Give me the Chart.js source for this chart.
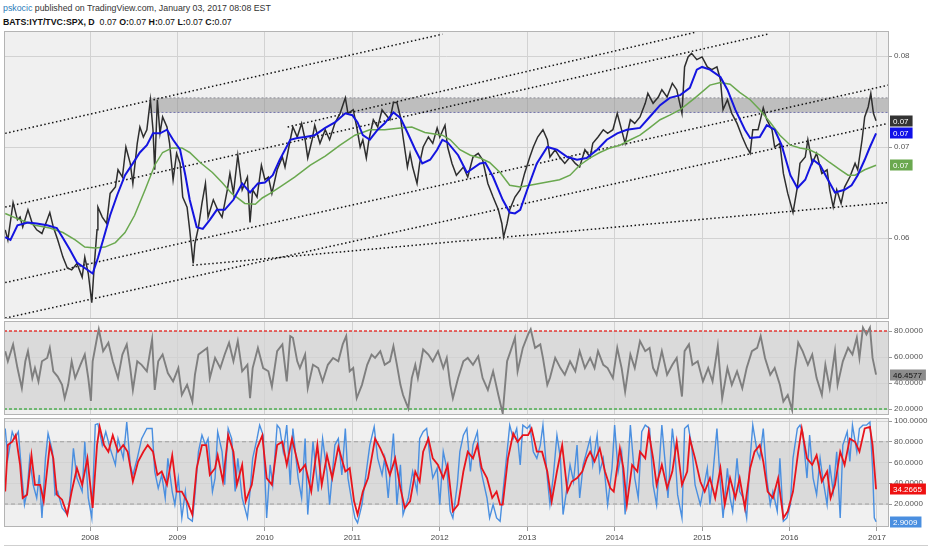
<!DOCTYPE html>
<html lang="en">
<head>
<meta charset="UTF-8">
<title>BATS:IYT/TVC:SPX, D</title>
<style>
  body { margin: 0; background: #fff; font-family: "Liberation Sans", Arial, sans-serif; }
  #page { position: relative; width: 932px; height: 550px; overflow: hidden; background: #fff; }
  .hdr { position: absolute; left: 3px; font-size: 8.8px; line-height: 12px; white-space: nowrap; color: #333; }
  #h1 { top: 2px; }
  #h2 { top: 16px; color: #111; }
  #h1 .user { color: #2a7ab9; }
  .pane { position: absolute; left: 4px; width: 928px; }
  #p1 { top: 31px; height: 288px; }
  #p2 { top: 321px; height: 94px; }
  #p3 { top: 414px; height: 134px; }
  #foot { position: absolute; left: 4px; top: 545px; width: 924px; border-top: 1px solid #cfcfcf; }
</style>
</head>
<body>
<div id="page">
  <div class="hdr" id="h1"><span class="user">pskocic</span> published on TradingView.com, January 03, 2017 08:08 EST</div>
  <div class="hdr" id="h2"><b>BATS:IYT/TVC:SPX, D</b>&nbsp; 0.07 <b>O:</b>0.07 <b>H:</b>0.07 <b>L:</b>0.07 <b>C:</b>0.07</div>
  <div class="pane" id="p1"><canvas id="mainChart"></canvas></div>
  <div class="pane" id="p2"><canvas id="rsiChart"></canvas></div>
  <div class="pane" id="p3"><canvas id="stochChart"></canvas></div>
  <div id="foot"></div>
</div>

<script src="https://cdn.jsdelivr.net/npm/chart.js"></script>
<script>
// ---- data: [decimal year, value] ----
const yearTicks = [2008, 2009, 2010, 2011, 2012, 2013, 2014, 2015, 2016, 2017];
const priceTicks = [0.06, 0.07, 0.08];
const rsiTicks = [20, 40, 60, 80];
const stochTicks = [20, 40, 60, 80, 100];
const rsiLevels = [80, 20];
const stochLevels = [80, 20];

const price = [
  [2007.03,0.0609],[2007.06,0.0598],[2007.12,0.0639],[2007.17,0.0620],[2007.20,0.0623],[2007.23,0.0612],[2007.29,0.0631],[2007.34,0.0616],
  [2007.39,0.0609],[2007.45,0.0605],[2007.51,0.0620],[2007.54,0.0628],[2007.58,0.0612],[2007.63,0.0598],[2007.69,0.0579],[2007.74,0.0567],
  [2007.79,0.0565],[2007.85,0.0572],[2007.91,0.0557],[2007.94,0.0579],[2007.98,0.0561],[2008.02,0.0529],[2008.05,0.0572],[2008.08,0.0609],
  [2008.09,0.0634],[2008.14,0.0623],[2008.19,0.0616],[2008.23,0.0649],[2008.29,0.0656],[2008.32,0.0675],[2008.37,0.0667],[2008.41,0.0700],
  [2008.46,0.0682],[2008.49,0.0660],[2008.54,0.0704],[2008.57,0.0722],[2008.61,0.0711],[2008.65,0.0719],[2008.69,0.0752],[2008.72,0.0719],
  [2008.74,0.0675],[2008.77,0.0752],[2008.80,0.0715],[2008.83,0.0733],[2008.88,0.0722],[2008.91,0.0704],[2008.95,0.0664],[2008.99,0.0693],
  [2009.03,0.0682],[2009.06,0.0645],[2009.11,0.0634],[2009.14,0.0609],[2009.18,0.0572],[2009.20,0.0594],[2009.24,0.0612],[2009.28,0.0638],
  [2009.32,0.0660],[2009.35,0.0623],[2009.41,0.0642],[2009.46,0.0631],[2009.51,0.0623],[2009.57,0.0653],[2009.60,0.0671],[2009.64,0.0649],
  [2009.69,0.0691],[2009.74,0.0653],[2009.80,0.0667],[2009.83,0.0617],[2009.86,0.0653],[2009.91,0.0645],[2009.96,0.0680],[2010.00,0.0664],
  [2010.04,0.0667],[2010.08,0.0649],[2010.14,0.0675],[2010.20,0.0689],[2010.23,0.0678],[2010.29,0.0708],[2010.32,0.0722],[2010.37,0.0711],
  [2010.42,0.0726],[2010.46,0.0708],[2010.49,0.0688],[2010.54,0.0708],[2010.57,0.0724],[2010.63,0.0704],[2010.69,0.0719],[2010.74,0.0708],
  [2010.80,0.0726],[2010.86,0.0737],[2010.92,0.0754],[2010.95,0.0737],[2011.01,0.0741],[2011.05,0.0722],[2011.09,0.0700],[2011.12,0.0708],
  [2011.16,0.0688],[2011.19,0.0708],[2011.24,0.0730],[2011.29,0.0722],[2011.34,0.0741],[2011.37,0.0737],[2011.43,0.0730],[2011.47,0.0749],
  [2011.51,0.0749],[2011.55,0.0733],[2011.58,0.0711],[2011.63,0.0678],[2011.66,0.0693],[2011.69,0.0678],[2011.74,0.0660],[2011.77,0.0682],
  [2011.81,0.0700],[2011.87,0.0711],[2011.92,0.0704],[2011.97,0.0721],[2012.00,0.0711],[2012.06,0.0724],[2012.09,0.0700],[2012.14,0.0682],
  [2012.19,0.0669],[2012.27,0.0678],[2012.32,0.0667],[2012.38,0.0689],[2012.44,0.0693],[2012.49,0.0686],[2012.55,0.0660],[2012.61,0.0645],
  [2012.67,0.0631],[2012.71,0.0616],[2012.73,0.0601],[2012.77,0.0616],[2012.80,0.0631],[2012.86,0.0645],[2012.92,0.0653],[2012.97,0.0671],
  [2013.03,0.0689],[2013.07,0.0700],[2013.12,0.0711],[2013.18,0.0719],[2013.23,0.0708],[2013.26,0.0689],[2013.32,0.0697],[2013.37,0.0689],
  [2013.43,0.0682],[2013.49,0.0689],[2013.55,0.0682],[2013.60,0.0678],[2013.66,0.0697],[2013.72,0.0689],[2013.75,0.0704],[2013.81,0.0711],
  [2013.87,0.0719],[2013.92,0.0715],[2013.98,0.0719],[2014.03,0.0737],[2014.06,0.0726],[2014.12,0.0704],[2014.18,0.0730],[2014.23,0.0726],
  [2014.29,0.0733],[2014.35,0.0748],[2014.38,0.0759],[2014.44,0.0748],[2014.50,0.0755],[2014.54,0.0763],[2014.60,0.0755],[2014.66,0.0770],
  [2014.71,0.0763],[2014.77,0.0737],[2014.80,0.0788],[2014.84,0.0799],[2014.88,0.0803],[2014.94,0.0796],[2015.00,0.0799],[2015.06,0.0788],
  [2015.11,0.0785],[2015.17,0.0788],[2015.21,0.0774],[2015.24,0.0741],[2015.29,0.0752],[2015.34,0.0737],[2015.40,0.0726],[2015.46,0.0711],
  [2015.51,0.0700],[2015.55,0.0693],[2015.58,0.0719],[2015.64,0.0719],[2015.70,0.0743],[2015.74,0.0730],[2015.80,0.0719],[2015.83,0.0700],
  [2015.89,0.0704],[2015.93,0.0671],[2015.98,0.0649],[2016.04,0.0628],[2016.09,0.0656],[2016.12,0.0682],[2016.18,0.0689],[2016.21,0.0708],
  [2016.26,0.0682],[2016.31,0.0693],[2016.37,0.0671],[2016.43,0.0675],[2016.46,0.0653],[2016.50,0.0634],[2016.54,0.0653],[2016.59,0.0638],
  [2016.63,0.0656],[2016.69,0.0667],[2016.75,0.0682],[2016.78,0.0675],[2016.83,0.0708],[2016.86,0.0733],[2016.90,0.0744],[2016.93,0.0759],
  [2016.96,0.0737],[2016.99,0.0729]
];

const fastMa = [
  [2007.03,0.0601],[2007.09,0.0598],[2007.17,0.0614],[2007.29,0.0617],[2007.39,0.0616],[2007.51,0.0614],[2007.62,0.0611],[2007.69,0.0600],
  [2007.77,0.0587],[2007.85,0.0573],[2007.94,0.0567],[2008.03,0.0561],[2008.09,0.0578],[2008.15,0.0598],[2008.23,0.0625],[2008.31,0.0647],
  [2008.40,0.0669],[2008.49,0.0682],[2008.57,0.0694],[2008.65,0.0702],[2008.72,0.0715],[2008.80,0.0715],[2008.88,0.0719],[2008.95,0.0708],
  [2009.03,0.0697],[2009.09,0.0669],[2009.14,0.0642],[2009.22,0.0612],[2009.29,0.0610],[2009.37,0.0620],[2009.45,0.0631],[2009.54,0.0631],
  [2009.64,0.0642],[2009.74,0.0660],[2009.83,0.0650],[2009.92,0.0660],[2010.00,0.0661],[2010.09,0.0669],[2010.17,0.0686],[2010.29,0.0708],
  [2010.37,0.0710],[2010.46,0.0711],[2010.57,0.0713],[2010.69,0.0721],[2010.80,0.0727],[2010.92,0.0737],[2011.00,0.0735],[2011.06,0.0727],
  [2011.12,0.0713],[2011.20,0.0708],[2011.29,0.0719],[2011.37,0.0726],[2011.47,0.0738],[2011.55,0.0732],[2011.63,0.0716],[2011.72,0.0697],
  [2011.80,0.0682],[2011.89,0.0686],[2011.97,0.0697],[2012.03,0.0708],[2012.09,0.0705],[2012.21,0.0691],[2012.31,0.0672],[2012.46,0.0682],
  [2012.52,0.0683],[2012.61,0.0667],[2012.72,0.0642],[2012.80,0.0628],[2012.86,0.0627],[2012.92,0.0631],[2013.00,0.0653],[2013.11,0.0682],
  [2013.23,0.0700],[2013.34,0.0697],[2013.46,0.0689],[2013.57,0.0686],[2013.68,0.0688],[2013.80,0.0697],[2013.91,0.0708],[2014.03,0.0715],
  [2014.14,0.0719],[2014.29,0.0721],[2014.40,0.0733],[2014.52,0.0746],[2014.63,0.0754],[2014.75,0.0757],[2014.86,0.0765],[2014.94,0.0785],
  [2015.00,0.0788],[2015.09,0.0785],[2015.21,0.0777],[2015.29,0.0763],[2015.38,0.0741],[2015.49,0.0719],[2015.55,0.0710],[2015.66,0.0711],
  [2015.74,0.0724],[2015.83,0.0719],[2015.91,0.0702],[2016.01,0.0669],[2016.09,0.0655],[2016.18,0.0664],[2016.27,0.0686],[2016.35,0.0680],
  [2016.44,0.0664],[2016.52,0.0650],[2016.63,0.0653],[2016.71,0.0658],[2016.78,0.0669],[2016.86,0.0686],[2016.92,0.0700],[2016.99,0.0715]
];

const slowMa = [
  [2007.03,0.0627],[2007.20,0.0620],[2007.37,0.0614],[2007.54,0.0611],[2007.69,0.0606],[2007.83,0.0598],[2007.94,0.0590],[2008.06,0.0589],
  [2008.17,0.0590],[2008.29,0.0595],[2008.40,0.0606],[2008.51,0.0625],[2008.63,0.0653],[2008.74,0.0680],[2008.83,0.0694],[2008.94,0.0699],
  [2009.05,0.0699],[2009.14,0.0694],[2009.26,0.0683],[2009.40,0.0672],[2009.51,0.0661],[2009.62,0.0649],[2009.77,0.0638],[2009.89,0.0637],
  [2009.97,0.0644],[2010.06,0.0649],[2010.17,0.0656],[2010.34,0.0667],[2010.52,0.0680],[2010.69,0.0690],[2010.86,0.0702],[2011.03,0.0713],
  [2011.20,0.0719],[2011.37,0.0719],[2011.55,0.0721],[2011.68,0.0722],[2011.83,0.0716],[2012.03,0.0713],[2012.12,0.0708],[2012.23,0.0697],
  [2012.35,0.0691],[2012.46,0.0688],[2012.57,0.0683],[2012.69,0.0672],[2012.80,0.0658],[2012.92,0.0656],[2013.03,0.0658],[2013.20,0.0661],
  [2013.37,0.0664],[2013.49,0.0669],[2013.60,0.0680],[2013.72,0.0688],[2013.83,0.0694],[2013.95,0.0699],[2014.06,0.0702],[2014.18,0.0708],
  [2014.29,0.0713],[2014.40,0.0721],[2014.52,0.0730],[2014.63,0.0735],[2014.75,0.0741],[2014.92,0.0754],[2015.09,0.0768],[2015.21,0.0771],
  [2015.32,0.0769],[2015.43,0.0760],[2015.55,0.0752],[2015.66,0.0741],[2015.78,0.0727],[2015.89,0.0713],[2016.01,0.0702],[2016.12,0.0699],
  [2016.23,0.0697],[2016.35,0.0691],[2016.46,0.0683],[2016.58,0.0675],[2016.67,0.0669],[2016.75,0.0669],[2016.86,0.0675],[2016.99,0.0680]
];

// dotted channel lines, each [start, end]
const trendLines = [
  [[2007.03,0.0715],[2012.03,0.0824]],
  [[2007.03,0.0634],[2015.75,0.0824]],
  [[2010.26,0.0722],[2014.92,0.0826]],
  [[2007.03,0.0551],[2017.13,0.0768]],
  [[2007.03,0.0512],[2017.13,0.0726]],
  [[2009.17,0.0570],[2017.13,0.0639]]
];
// resistance zone: from, to, top, bottom
const zoneSpan = [2008.68, 2017.14];
const zoneLevels = [0.0754, 0.0738];

const rsi = [
  [2007.03,64.5],[2007.06,56.7],[2007.12,69.7],[2007.17,51.5],[2007.22,36],[2007.26,56.7],[2007.29,64.5],[2007.34,43.8],[2007.37,51.5],
  [2007.41,41.2],[2007.45,56.7],[2007.51,59.3],[2007.54,67],[2007.58,49],[2007.63,45],[2007.68,38.6],[2007.71,28.3],[2007.75,38.6],
  [2007.79,56.7],[2007.83,43.8],[2007.89,54],[2007.94,61.9],[2007.98,43.8],[2008.01,26.2],[2008.03,56.7],[2008.08,74.8],[2008.10,81.3],
  [2008.15,64.5],[2008.21,71],[2008.26,56.7],[2008.32,43.8],[2008.37,61.9],[2008.42,69.7],[2008.46,51.5],[2008.49,34.7],[2008.54,56.7],
  [2008.59,54],[2008.65,49],[2008.71,73.5],[2008.74,34.7],[2008.78,56.7],[2008.83,61.9],[2008.89,47.7],[2008.95,41.2],[2009.01,51.5],
  [2009.05,30.8],[2009.11,38.6],[2009.17,25.7],[2009.20,46.4],[2009.24,61.9],[2009.29,64.5],[2009.34,67],[2009.37,43.8],[2009.43,59.3],
  [2009.49,51.5],[2009.54,61.9],[2009.59,71],[2009.64,56.7],[2009.69,72.2],[2009.74,49],[2009.80,54],[2009.83,28.3],[2009.86,51.5],
  [2009.92,67],[2009.98,51.5],[2010.04,49],[2010.08,37.3],[2010.14,64.5],[2010.20,69.7],[2010.25,41.2],[2010.29,76.1],[2010.32,74.8],
  [2010.37,56.7],[2010.40,51.5],[2010.46,61.9],[2010.49,36],[2010.55,54],[2010.61,51.5],[2010.66,41.2],[2010.72,54],[2010.78,59.3],
  [2010.84,56.7],[2010.89,69.7],[2010.93,76.1],[2010.97,49],[2011.01,51.5],[2011.05,28.3],[2011.11,38.6],[2011.17,54],[2011.22,61.9],
  [2011.26,59.3],[2011.32,64.5],[2011.37,54],[2011.43,56.7],[2011.47,68.4],[2011.51,54],[2011.55,38.6],[2011.58,30.8],[2011.64,20.5],
  [2011.68,43.8],[2011.72,54],[2011.75,43.8],[2011.81,65.8],[2011.87,61.9],[2011.92,56.7],[2011.98,64.5],[2012.04,51.5],[2012.08,59.3],
  [2012.12,38.6],[2012.15,28.3],[2012.21,43.8],[2012.27,56.7],[2012.32,59.3],[2012.38,54],[2012.44,60.6],[2012.49,43.8],[2012.55,34.7],
  [2012.61,49],[2012.67,30.8],[2012.72,16.6],[2012.77,56.7],[2012.81,64.5],[2012.86,74.8],[2012.89,49],[2012.95,67],[2013.01,77.4],
  [2013.04,81.3],[2013.09,67],[2013.15,69.7],[2013.18,59.3],[2013.23,38.6],[2013.26,43.8],[2013.32,59.3],[2013.38,51.5],[2013.43,46.4],
  [2013.49,56.7],[2013.55,49],[2013.60,64.5],[2013.66,51.5],[2013.72,59.3],[2013.77,51.5],[2013.81,64.5],[2013.87,54],[2013.92,51.5],
  [2013.98,43.8],[2014.03,67],[2014.08,51.5],[2014.12,33.4],[2014.18,61.9],[2014.23,51.5],[2014.29,72.2],[2014.35,64.5],[2014.40,67],
  [2014.44,51.5],[2014.48,46.4],[2014.54,64.5],[2014.60,46.4],[2014.66,54],[2014.71,59.3],[2014.77,29.6],[2014.80,64.5],[2014.85,69.7],
  [2014.89,54],[2014.95,56.7],[2015.01,41.2],[2015.07,51.5],[2015.12,41.2],[2015.18,68.4],[2015.23,28.3],[2015.29,51.5],[2015.34,38.6],
  [2015.40,49],[2015.46,36],[2015.51,51.5],[2015.57,64.5],[2015.63,67],[2015.67,76.1],[2015.72,59.3],[2015.78,46.4],[2015.83,51.5],
  [2015.89,38.6],[2015.93,25.7],[2015.98,30.8],[2016.03,19.2],[2016.06,49],[2016.10,71],[2016.15,64.5],[2016.21,54],[2016.26,61.9],
  [2016.31,43.8],[2016.37,30.8],[2016.41,54],[2016.46,36],[2016.52,64.5],[2016.55,38.6],[2016.61,56.7],[2016.67,67],[2016.72,61.9],
  [2016.77,74.8],[2016.80,59.3],[2016.84,82.6],[2016.88,77.4],[2016.92,82.6],[2016.95,59.3],[2016.99,46.4577]
];

const stochK = [
  [2007.03,92.8],[2007.06,64],[2007.11,89.6],[2007.14,83],[2007.18,89.6],[2007.22,48],[2007.25,19.4],[2007.28,32],[2007.31,64],
  [2007.35,38.5],[2007.39,25.8],[2007.42,48],[2007.45,6.6],[2007.49,64],[2007.52,88],[2007.57,70.4],[2007.60,29],[2007.63,32],
  [2007.68,16.2],[2007.74,9.8],[2007.77,25.8],[2007.81,73.6],[2007.85,45],[2007.91,32],[2007.94,80],[2007.98,25.8],[2008.02,6.6],
  [2008.06,96.5],[2008.09,97.4],[2008.14,76.8],[2008.18,89.6],[2008.23,73.6],[2008.29,57.7],[2008.32,83],[2008.38,64],[2008.42,99],
  [2008.46,57.7],[2008.49,48],[2008.54,64],[2008.59,83],[2008.65,92.8],[2008.71,92.8],[2008.74,51.3],[2008.78,35.3],[2008.82,48],
  [2008.86,25.8],[2008.89,64],[2008.94,32],[2008.97,19.4],[2009.01,45],[2009.05,6.6],[2009.09,32],[2009.12,6.6],[2009.17,3.4],
  [2009.20,29],[2009.24,70.4],[2009.28,86.4],[2009.32,76.8],[2009.35,83],[2009.40,32],[2009.43,45],[2009.46,89.6],[2009.51,70.4],
  [2009.54,38.5],[2009.58,92.8],[2009.62,83],[2009.66,32],[2009.69,64],[2009.74,25.8],[2009.80,6.6],[2009.83,32],[2009.86,64],
  [2009.91,83],[2009.94,96],[2009.98,86.4],[2010.02,6.6],[2010.06,57.7],[2010.09,38.5],[2010.14,96],[2010.17,92.8],[2010.21,70.4],
  [2010.25,96],[2010.29,38.5],[2010.32,92.8],[2010.38,45],[2010.42,25.8],[2010.46,83],[2010.49,9.8],[2010.55,80],[2010.61,32],
  [2010.66,83],[2010.71,51.3],[2010.74,19.4],[2010.80,76.8],[2010.84,83],[2010.88,48],[2010.92,92.8],[2010.95,45],[2011.00,19.4],
  [2011.03,6.6],[2011.06,1.8],[2011.11,19.4],[2011.17,57.7],[2011.20,76.8],[2011.25,94.4],[2011.29,64],[2011.34,48],[2011.37,64],
  [2011.41,25.8],[2011.47,88],[2011.51,19.4],[2011.55,57.7],[2011.58,9.8],[2011.64,25.8],[2011.69,51.3],[2011.74,32],[2011.77,83],
  [2011.81,89.6],[2011.85,92.8],[2011.89,64],[2011.92,45],[2011.97,54.5],[2012.00,19.4],[2012.04,70.4],[2012.08,54.5],[2012.12,13],
  [2012.15,6.6],[2012.20,38.5],[2012.23,70.4],[2012.27,86.4],[2012.31,92.8],[2012.35,51.3],[2012.38,76.8],[2012.43,89.6],[2012.46,57.7],
  [2012.49,45],[2012.54,25.8],[2012.57,6.6],[2012.61,19.4],[2012.65,6.6],[2012.69,3.4],[2012.72,29],[2012.77,70.4],[2012.80,96],
  [2012.84,83],[2012.88,92.8],[2012.92,57.7],[2012.95,96],[2013.00,92.8],[2013.03,96],[2013.07,70.4],[2013.11,64],[2013.15,76.8],
  [2013.18,96],[2013.23,45],[2013.26,19.4],[2013.30,48],[2013.34,86.4],[2013.38,64],[2013.41,9.8],[2013.46,38.5],[2013.49,57.7],
  [2013.53,41.7],[2013.57,76.8],[2013.60,25.8],[2013.64,57.7],[2013.68,70.4],[2013.72,83],[2013.75,57.7],[2013.80,86.4],[2013.83,51.3],
  [2013.87,64],[2013.92,19.4],[2013.97,54.5],[2014.00,96],[2014.04,51.3],[2014.08,70.4],[2014.12,9.8],[2014.18,96],[2014.23,45],
  [2014.27,25.8],[2014.31,89.6],[2014.35,96],[2014.40,92.8],[2014.44,38.5],[2014.48,19.4],[2014.54,96],[2014.58,57.7],[2014.61,25.8],
  [2014.66,92.8],[2014.69,70.4],[2014.72,29],[2014.77,6.6],[2014.80,92.8],[2014.84,96],[2014.88,76.8],[2014.92,38.5],[2014.98,19.4],
  [2015.01,32],[2015.06,54.5],[2015.09,19.4],[2015.12,45],[2015.17,92.8],[2015.21,38.5],[2015.24,6.6],[2015.29,54.5],[2015.32,25.8],
  [2015.35,13],[2015.40,64],[2015.43,32],[2015.47,25.8],[2015.51,6.6],[2015.55,64],[2015.58,96],[2015.63,70.4],[2015.66,64],
  [2015.70,92.8],[2015.74,45],[2015.78,19.4],[2015.81,32],[2015.86,13],[2015.89,64],[2015.93,3.4],[2015.97,6.6],[2016.01,19.4],
  [2016.04,64],[2016.09,92.8],[2016.12,96],[2016.15,89.6],[2016.20,45],[2016.23,86.4],[2016.27,45],[2016.31,29],[2016.35,64],
  [2016.38,45],[2016.43,19.4],[2016.46,57.7],[2016.50,32],[2016.54,70.4],[2016.58,6.6],[2016.61,76.8],[2016.66,89.6],[2016.69,61],
  [2016.72,96],[2016.77,70.4],[2016.80,92.8],[2016.84,96],[2016.88,96],[2016.92,99],[2016.95,54.5],[2016.97,6.6],[2016.99,2.9009]
];

const stochD = [
  [2007.03,32],[2007.06,76.8],[2007.11,80],[2007.15,86.4],[2007.20,57.7],[2007.23,25.8],[2007.28,29],[2007.33,67],[2007.37,38.5],
  [2007.43,38.5],[2007.47,22.6],[2007.54,76.8],[2007.58,64],[2007.62,29],[2007.68,24.2],[2007.74,9.8],[2007.79,32],[2007.85,54.5],
  [2007.91,38.5],[2007.97,64],[2008.03,16.2],[2008.08,76.8],[2008.11,94.4],[2008.16,76.8],[2008.21,70.4],[2008.26,86.4],[2008.32,70.4],
  [2008.38,76.8],[2008.43,70.4],[2008.49,41.7],[2008.55,60.9],[2008.61,70.4],[2008.66,76.8],[2008.72,70.4],[2008.77,48],[2008.82,51.3],
  [2008.88,38.5],[2008.94,67],[2008.99,32],[2009.05,32],[2009.11,22.6],[2009.17,9.8],[2009.22,54.5],[2009.28,76.8],[2009.33,76.8],
  [2009.37,48],[2009.43,54.5],[2009.46,67],[2009.52,41.7],[2009.58,86.4],[2009.64,70.4],[2009.68,38.5],[2009.74,57.7],[2009.78,22.6],
  [2009.85,38.5],[2009.91,73.6],[2009.97,86],[2010.02,45],[2010.08,38.5],[2010.14,76.8],[2010.20,80],[2010.25,57.7],[2010.31,83],
  [2010.40,51.3],[2010.46,57.7],[2010.53,32],[2010.60,76.8],[2010.65,38.5],[2010.71,67],[2010.77,45],[2010.84,75],[2010.92,51.3],
  [2010.97,54.5],[2011.02,22.6],[2011.06,9.8],[2011.12,32],[2011.18,45],[2011.26,83],[2011.32,73.6],[2011.37,64],[2011.43,48],
  [2011.49,64],[2011.55,35.3],[2011.60,16.2],[2011.66,22.6],[2011.72,51.3],[2011.77,41.7],[2011.81,70.4],[2011.87,83],[2011.92,64],
  [2011.98,57.7],[2012.04,45],[2012.09,57.7],[2012.15,13],[2012.21,19.4],[2012.27,51.3],[2012.32,70.4],[2012.38,64],[2012.43,76.8],
  [2012.48,54.5],[2012.54,45],[2012.60,25.8],[2012.65,32],[2012.69,19.4],[2012.72,19.4],[2012.78,64],[2012.84,88],[2012.89,80],
  [2012.95,86.4],[2013.01,86.4],[2013.05,92.8],[2013.11,70.4],[2013.17,70.4],[2013.23,51.3],[2013.28,22.6],[2013.34,51.3],[2013.40,76.8],
  [2013.46,32],[2013.51,41.7],[2013.57,45],[2013.63,51.3],[2013.68,64],[2013.72,70.4],[2013.77,61],[2013.83,73.6],[2013.89,51.3],
  [2013.95,35.3],[2013.99,32],[2014.06,73.6],[2014.10,54.5],[2014.14,19.4],[2014.20,57.7],[2014.26,51.3],[2014.29,70.4],[2014.35,64],
  [2014.39,89.6],[2014.44,64],[2014.48,38.5],[2014.54,57.7],[2014.60,35.3],[2014.66,51.3],[2014.71,80],[2014.77,38.5],[2014.83,51.3],
  [2014.86,83],[2014.92,64],[2014.98,41.7],[2015.03,32],[2015.09,45],[2015.15,25.8],[2015.21,54.5],[2015.26,19.4],[2015.32,45],
  [2015.38,25.8],[2015.43,45],[2015.49,16.2],[2015.55,54.5],[2015.60,70.4],[2015.66,76.8],[2015.70,61],[2015.75,32],[2015.81,25.8],
  [2015.87,45],[2015.93,6.6],[2015.98,13],[2016.04,32],[2016.10,70.4],[2016.14,92.8],[2016.20,64],[2016.26,57.7],[2016.31,67],
  [2016.37,41.7],[2016.43,51.3],[2016.47,25.8],[2016.52,38.5],[2016.58,70.4],[2016.63,57.7],[2016.69,83],[2016.75,80],[2016.80,70.4],
  [2016.86,92.8],[2016.92,94.4],[2016.95,76.8],[2016.99,34.2665]
];

// ---- shared look ----
const X_MIN = 2007.016, X_MAX = 2017.138;
const GRID = '#d2d2d2';
Chart.defaults.font.family = '"Liberation Sans", Arial, sans-serif';
Chart.defaults.font.size = 8;
Chart.defaults.animation = false;
Chart.defaults.events = [];

function pts(pairs) {
  return pairs.map(p => ({ x: p[0], y: p[1] }));
}

function series(pairs, color, width, more) {
  return Object.assign({
    data: pts(pairs),
    borderColor: color,
    borderWidth: width,
    pointRadius: 0,
    tension: 0,
    fill: false
  }, more || {});
}

function levelLine(v, color, dash, width) {
  return series([[X_MIN, v], [X_MAX, v]], color, width, { borderDash: dash });
}

function xScale(showLabels) {
  return {
    type: 'linear',
    min: X_MIN,
    max: X_MAX,
    afterBuildTicks: s => { s.ticks = yearTicks.map(v => ({ value: v })); },
    afterFit: s => { s.height = showLabels ? 21 : 0; },
    grid: { color: GRID, drawTicks: showLabels, tickLength: 4, tickColor: '#9a9a9a' },
    border: { display: false },
    ticks: {
      display: showLabels, padding: 2, color: '#444', maxRotation: 0, autoSkip: false,
      callback: v => String(v)
    }
  };
}

function yScale(min, max, ticks, digits) {
  return {
    position: 'right',
    min: min,
    max: max,
    afterBuildTicks: s => { s.ticks = ticks.map(v => ({ value: v })); },
    afterFit: s => { s.width = 43; s.paddingTop = 0; s.paddingBottom = 0; },
    grid: { color: GRID, tickLength: 3, tickColor: '#9a9a9a' },
    border: { display: false },
    ticks: { padding: 2, color: '#555', callback: v => v.toFixed(digits) }
  };
}

// pane background, shaded band, border and last-value tags
const paneDeco = {
  id: 'paneDeco',
  beforeDraw(chart, args, opts) {
    const { ctx, chartArea: a } = chart;
    const y = chart.scales.y;
    ctx.save();
    ctx.fillStyle = '#f0f0f0';
    ctx.fillRect(a.left, a.top, a.width, a.height);
    if (opts.band) {
      const t = y.getPixelForValue(opts.band[0]);
      const b = y.getPixelForValue(opts.band[1]);
      ctx.fillStyle = '#dadada';
      ctx.fillRect(a.left, t, a.width, b - t);
    }
    ctx.restore();
  },
  afterDraw(chart) {
    const { ctx, chartArea: a } = chart;
    const y = chart.scales.y;
    ctx.save();
    ctx.strokeStyle = '#b4b4b4';
    ctx.lineWidth = 1;
    ctx.strokeRect(a.left + 0.5, a.top + 0.5, a.width - 1, a.height - 1);
    ctx.font = '8px "Liberation Sans", Arial, sans-serif';
    ctx.textBaseline = 'middle';
    chart.data.datasets.forEach(ds => {
      if (!ds.tag) return;
      const last = ds.data[ds.data.length - 1];
      const py = Math.round(y.getPixelForValue(last.y));
      const text = last.y.toFixed(ds.tag.digits);
      const w = ctx.measureText(text).width + 7;
      ctx.fillStyle = ds.tag.bg;
      ctx.fillRect(a.right + 1, py - 5.5, w, 11);
      ctx.fillStyle = ds.tag.fg;
      ctx.fillText(text, a.right + 4, py + 0.5);
    });
    ctx.restore();
  }
};

function baseOptions(scales, deco, pad) {
  return {
    responsive: true,
    maintainAspectRatio: false,
    layout: { padding: { top: pad || 0, left: 0, right: 0, bottom: 0 } },
    scales: scales,
    plugins: { legend: { display: false }, tooltip: { enabled: false }, paneDeco: deco }
  };
}

// ---- main price pane ----
const mainSets = [
  series(fastMa, '#1414e0', 2, { tag: { bg: '#1010e8', fg: '#fff', digits: 2 } }),
  series(slowMa, '#6aa84f', 1.5, { tag: { bg: '#6aa84f', fg: '#fff', digits: 2 } }),
  series(price, '#2e2e2e', 1.5, { tag: { bg: '#333', fg: '#fff', digits: 2 } })
];
trendLines.forEach(l => {
  mainSets.push(series(l, '#111', 1.5, { borderDash: [1.5, 2.5] }));
});
mainSets.push(series([[zoneSpan[0], zoneLevels[0]], [zoneSpan[1], zoneLevels[0]]], '#8a8a95', 1,
  { borderDash: [2, 2], fill: '+1', backgroundColor: 'rgba(140,140,140,0.5)' }));
mainSets.push(series([[zoneSpan[0], zoneLevels[1]], [zoneSpan[1], zoneLevels[1]]], '#6a6ab8', 1,
  { borderDash: [2, 2] }));

new Chart(document.getElementById('mainChart'), {
  type: 'line',
  data: { datasets: mainSets },
  options: baseOptions({ x: xScale(false), y: yScale(0.0511, 0.08275, priceTicks, 2) }, {}),
  plugins: [paneDeco]
});

// ---- RSI pane ----
new Chart(document.getElementById('rsiChart'), {
  type: 'line',
  data: {
    datasets: [
      series(rsi, '#7f7f7f', 1.9, { tag: { bg: '#8c8c8c', fg: '#111', digits: 4 } }),
      levelLine(rsiLevels[0], '#e53935', [3, 2], 1.4),
      levelLine(rsiLevels[1], '#4caf50', [3, 2], 1.4)
    ]
  },
  options: baseOptions({ x: xScale(false), y: yScale(15.4, 87.7, rsiTicks, 4) }, { band: rsiLevels }),
  plugins: [paneDeco]
});

// ---- stochastic pane ----
new Chart(document.getElementById('stochChart'), {
  type: 'line',
  data: {
    datasets: [
      series(stochD, '#e8141c', 1.8, { tag: { bg: '#ee1111', fg: '#fff', digits: 4 } }),
      series(stochK, '#4a8fe0', 1.4, { tag: { bg: '#4a8fe0', fg: '#fff', digits: 4 } }),
      levelLine(stochLevels[0], '#a0a0a0', [4, 3], 1),
      levelLine(stochLevels[1], '#a0a0a0', [4, 3], 1)
    ]
  },
  options: baseOptions({ x: xScale(true), y: yScale(-2.17, 102.9, stochTicks, 4) }, { band: stochLevels }, 4),
  plugins: [paneDeco]
});
</script>
</body>
</html>
